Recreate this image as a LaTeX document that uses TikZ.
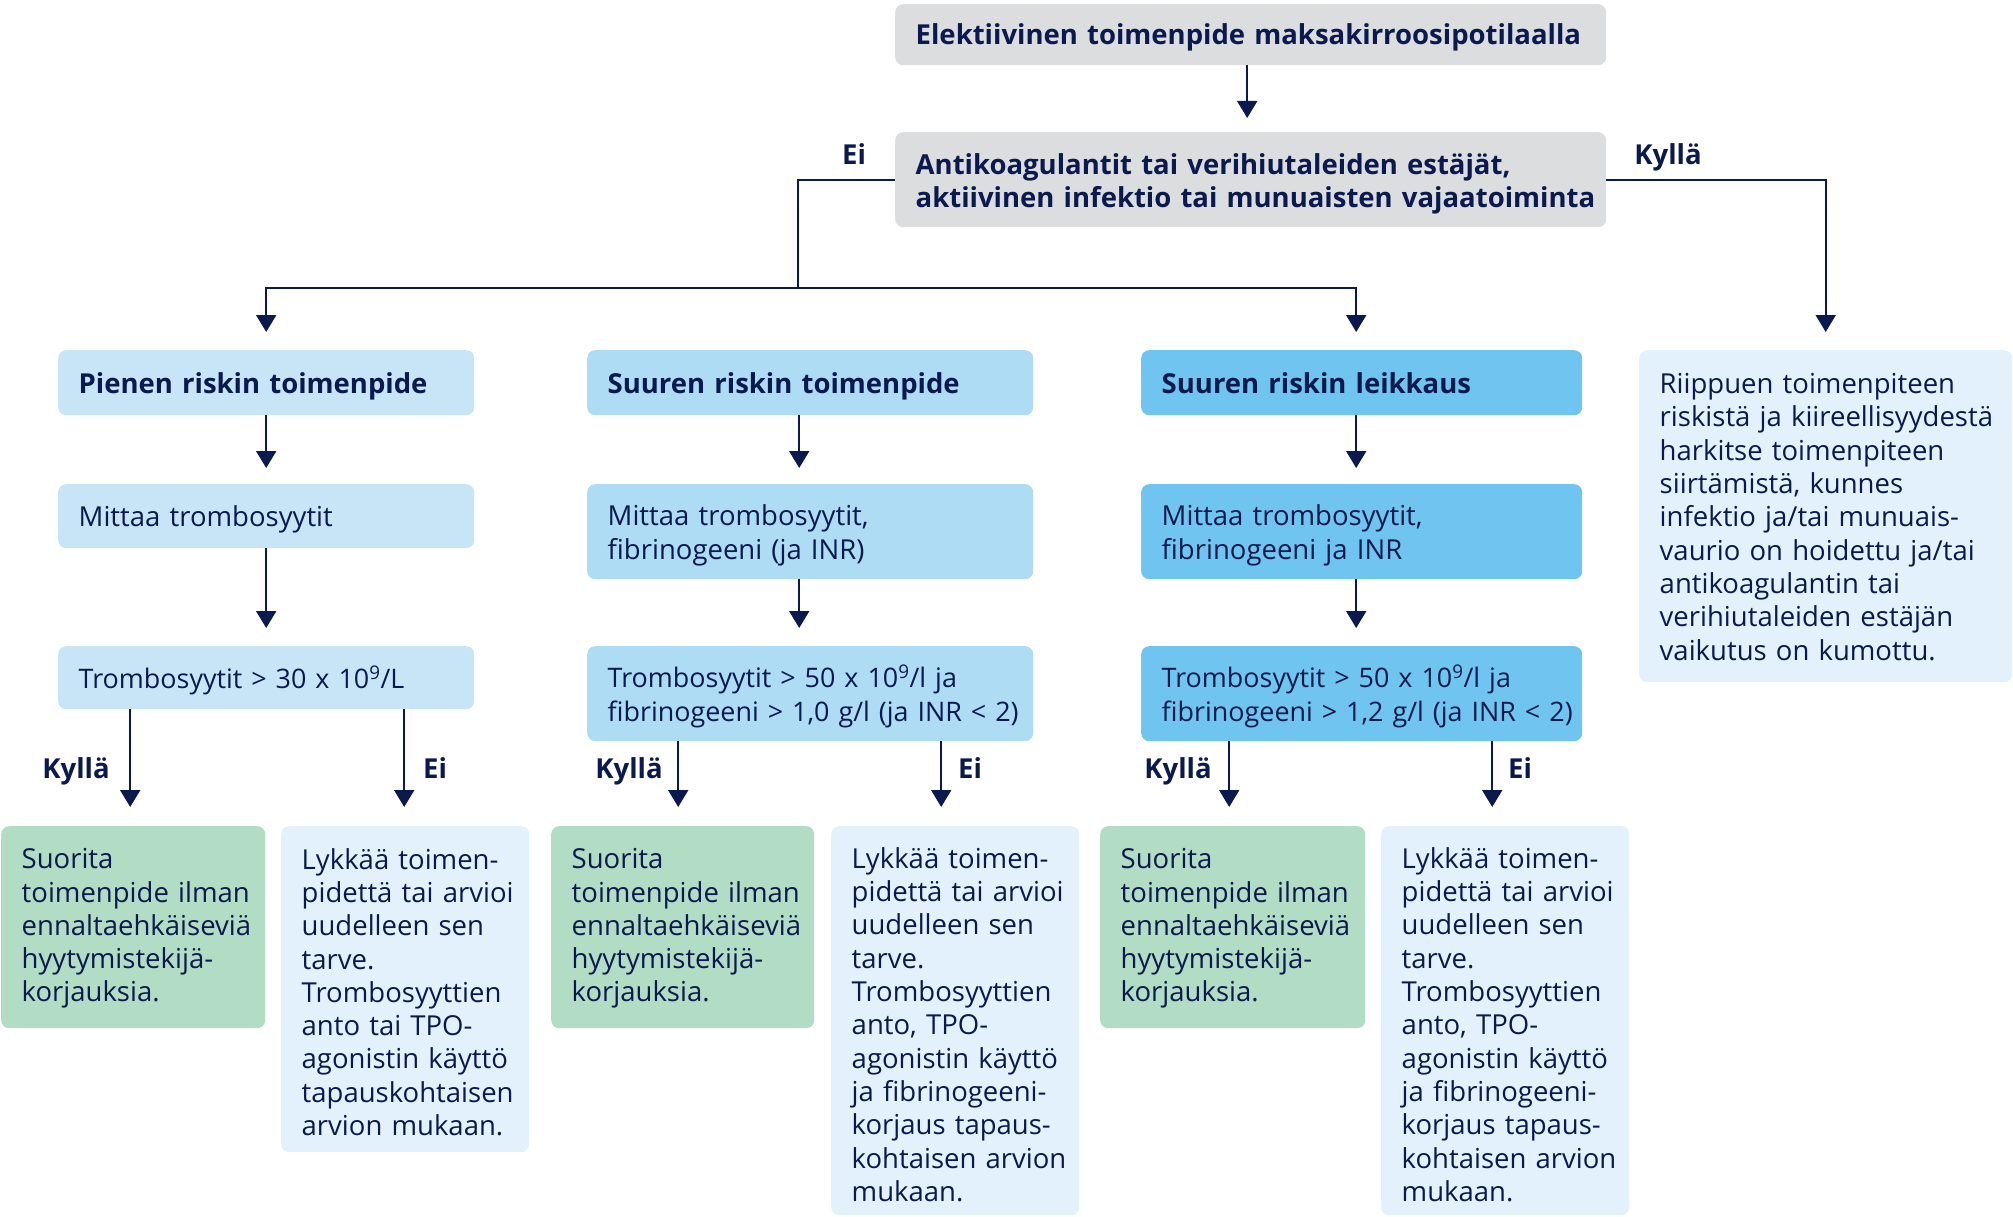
\documentclass[tikz,border=0pt]{standalone}
\usepackage{fontspec}
\setmainfont{Open Sans}[WordSpace=0.85]
\usetikzlibrary{arrows.meta,calc}
\definecolor{navy}{HTML}{0B1A4E}
\definecolor{boxgray}{HTML}{DCDDDF}
\definecolor{blueA}{HTML}{C8E5F8}
\definecolor{blueB}{HTML}{AEDCF5}
\definecolor{blueC}{HTML}{70C5F0}
\definecolor{paleblue}{HTML}{E3F1FC}
\definecolor{palegreen}{HTML}{B2DCC3}
\hfuzz=60pt
\newcommand\boxlines[2][-4pt]{\raisebox{#1}[\height][\depth]{\begin{tabular}{@{}l@{}}#2\end{tabular}}}
\begin{document}
\begin{tikzpicture}[x=1pt,y=-1pt,
  bx/.style={anchor=north west, rounded corners=8pt, inner xsep=20.5pt, inner ysep=0pt,
    align=left, text=navy, font=\fontsize{27.5}{33.3}\selectfont},
  cond/.style={font=\fontsize{26.9}{33.3}\selectfont},
  lbl/.style={anchor=base, text=navy, font=\fontsize{27.5}{33.3}\selectfont\bfseries, inner sep=0pt},
  ln/.style={draw=navy, line width=2pt},
  arr/.style={ln, -{Triangle[width=20pt,length=17pt]}}]
\useasboundingbox (0,0) rectangle (2013,1217);

% top
\node[bx, fill=boxgray, minimum width=711pt, minimum height=61pt, text width=670pt] (T1) at (895,4)
  {\bfseries\boxlines[-3pt]{Elektiivinen toimenpide maksakirroosipotilaalla}};
\node[bx, fill=boxgray, minimum width=711pt, minimum height=95pt, text width=670pt] (T2) at (895,132)
  {\bfseries\boxlines[-4.5pt]{Antikoagulantit tai verihiutaleiden estäjät,\\aktiivinen infektio tai munuaisten vajaatoiminta}};

% column 1
\node[bx, fill=blueA, minimum width=416pt, minimum height=65pt, text width=375pt] (H1) at (58,350)
  {\bfseries\boxlines{Pienen riskin toimenpide}};
\node[bx, fill=blueA, minimum width=416pt, minimum height=64pt, text width=375pt] (M1) at (58,484)
  {\boxlines{Mittaa trombosyytit}};
\node[bx, cond, fill=blueA, minimum width=416pt, minimum height=63pt, text width=375pt] (C1) at (58,646)
  {\boxlines{Trombosyytit > 30 x 10\textsuperscript{9}/L}};

% column 2
\node[bx, fill=blueB, minimum width=446pt, minimum height=65pt, text width=405pt] (H2) at (587,350)
  {\bfseries\boxlines{Suuren riskin toimenpide}};
\node[bx, fill=blueB, minimum width=446pt, minimum height=95pt, text width=405pt] (M2) at (587,484)
  {\boxlines{Mittaa trombosyytit,\\fibrinogeeni (ja INR)}};
\node[bx, cond, fill=blueB, minimum width=446pt, minimum height=95pt, text width=405pt] (C2) at (587,646)
  {\boxlines{Trombosyytit > 50 x 10\textsuperscript{9}/l ja\\fibrinogeeni > 1,0 g/l (ja INR < 2)}};

% column 3
\node[bx, fill=blueC, minimum width=441pt, minimum height=65pt, text width=400pt] (H3) at (1141,350)
  {\bfseries\boxlines{Suuren riskin leikkaus}};
\node[bx, fill=blueC, minimum width=441pt, minimum height=95pt, text width=400pt] (M3) at (1141,484)
  {\boxlines{Mittaa trombosyytit,\\fibrinogeeni ja INR}};
\node[bx, cond, fill=blueC, minimum width=441pt, minimum height=95pt, text width=400pt] (C3) at (1141,646)
  {\boxlines{Trombosyytit > 50 x 10\textsuperscript{9}/l ja\\fibrinogeeni > 1,2 g/l (ja INR < 2)}};

% right box
\node[bx, fill=paleblue, minimum width=373pt, minimum height=332pt, text width=332pt] (R) at (1639,350)
  {\boxlines{Riippuen toimenpiteen\\riskistä ja kiireellisyydestä\\harkitse toimenpiteen\\siirtämistä, kunnes\\infektio ja/tai munuais-\\vaurio on hoidettu ja/tai\\antikoagulantin tai\\verihiutaleiden estäjän\\vaikutus on kumottu.}};

% bottom boxes
\node[bx, fill=palegreen, minimum width=264pt, minimum height=202pt, text width=223pt] (G1) at (1,826)
  {\boxlines[-1.5pt]{Suorita\\toimenpide ilman\\ennaltaehkäiseviä\\hyytymistekijä-\\korjauksia.}};
\node[bx, fill=paleblue, minimum width=248pt, minimum height=326pt, text width=207pt] (B1) at (281,826)
  {\boxlines[-6.5pt]{Lykkää toimen-\\pidettä tai arvioi\\uudelleen sen\\tarve.\\Trombosyyttien\\anto tai TPO-\\agonistin käyttö\\tapauskohtaisen\\arvion mukaan.}};
\node[bx, fill=palegreen, minimum width=263pt, minimum height=202pt, text width=222pt] (G2) at (551,826)
  {\boxlines[-1.5pt]{Suorita\\toimenpide ilman\\ennaltaehkäiseviä\\hyytymistekijä-\\korjauksia.}};
\node[bx, fill=paleblue, minimum width=248pt, minimum height=389pt, text width=207pt] (B2) at (831,826)
  {\boxlines[-7.5pt]{Lykkää toimen-\\pidettä tai arvioi\\uudelleen sen\\tarve.\\Trombosyyttien\\anto, TPO-\\agonistin käyttö\\ja fibrinogeeni-\\korjaus tapaus-\\kohtaisen arvion\\mukaan.}};
\node[bx, fill=palegreen, minimum width=265pt, minimum height=202pt, text width=224pt] (G3) at (1100,826)
  {\boxlines[-1.5pt]{Suorita\\toimenpide ilman\\ennaltaehkäiseviä\\hyytymistekijä-\\korjauksia.}};
\node[bx, fill=paleblue, minimum width=248pt, minimum height=389pt, text width=207pt] (B3) at (1381,826)
  {\boxlines[-7.5pt]{Lykkää toimen-\\pidettä tai arvioi\\uudelleen sen\\tarve.\\Trombosyyttien\\anto, TPO-\\agonistin käyttö\\ja fibrinogeeni-\\korjaus tapaus-\\kohtaisen arvion\\mukaan.}};

% labels
\node[lbl] (LEi) at (854,165) {Ei};
\node[lbl] (LKy) at (1668,165) {Kyllä};
\node[lbl] (k1) at (76,778) {Kyllä};
\node[lbl] (e1) at (435,778) {Ei};
\node[lbl] (k2) at (629,778) {Kyllä};
\node[lbl] (e2) at (970,778) {Ei};
\node[lbl] (k3) at (1178,778) {Kyllä};
\node[lbl] (e3) at (1520,778) {Ei};

% connectors
\coordinate (J) at (798,288);
\draw[arr, shorten >=14pt] ([xshift=-3.5pt]T1.south) -- ([xshift=-3.5pt]T2.north);
\draw[ln] (T2.west) -| (J);
\draw[arr, shorten >=18pt] (J) -| (H1.north);
\draw[arr, shorten >=18pt] (J) -| ([xshift=-5.5pt]H3.north);
\draw[arr, shorten >=18pt] (T2.east) -| (R.north);

\draw[arr, shorten >=16pt] (H1.south) -- (M1.north);
\draw[arr, shorten >=16pt] ([xshift=-11pt]H2.south) -- ([xshift=-11pt]M2.north);
\draw[arr, shorten >=16pt] ([xshift=-5.5pt]H3.south) -- ([xshift=-5.5pt]M3.north);
\draw[arr, shorten >=18pt] (M1.south) -- (C1.north);
\draw[arr, shorten >=18pt] ([xshift=-11pt]M2.south) -- ([xshift=-11pt]C2.north);
\draw[arr, shorten >=18pt] ([xshift=-5.5pt]M3.south) -- ([xshift=-5.5pt]C3.north);

\draw[arr, shorten >=19pt] ([xshift=-3pt]G1.north |- C1.south) -- ([xshift=-3pt]G1.north);
\draw[arr, shorten >=19pt] ([xshift=-1pt]B1.north |- C1.south) -- ([xshift=-1pt]B1.north);
\draw[arr, shorten >=19pt] ([xshift=-4.5pt]G2.north |- C2.south) -- ([xshift=-4.5pt]G2.north);
\draw[arr, shorten >=19pt] ([xshift=-14pt]B2.north |- C2.south) -- ([xshift=-14pt]B2.north);
\draw[arr, shorten >=19pt] ([xshift=-3.5pt]G3.north |- C3.south) -- ([xshift=-3.5pt]G3.north);
\draw[arr, shorten >=19pt] ([xshift=-13pt]B3.north |- C3.south) -- ([xshift=-13pt]B3.north);
\end{tikzpicture}
\end{document}
